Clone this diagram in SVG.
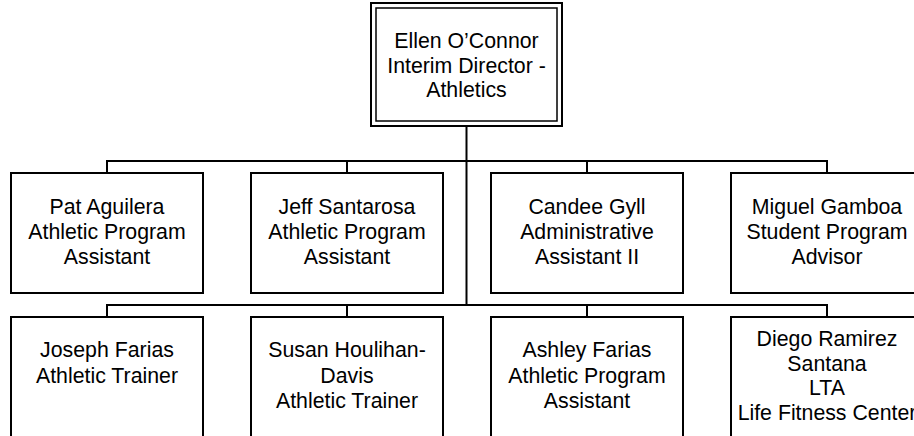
<svg xmlns="http://www.w3.org/2000/svg" width="914" height="436" viewBox="0 0 914 436">
<style>
.box{fill:#fff;stroke:#000;stroke-width:2}
.inner{fill:none;stroke:#000;stroke-width:1.5}
.conn{fill:none;stroke:#000;stroke-width:2}
text{font-family:"Liberation Sans",Arial,sans-serif;font-size:21.3px;fill:#000;text-anchor:middle}
</style>
<rect width="914" height="436" fill="#fff"/>
<g id="connectors">
<path class="conn" d="M466.5 126V305"/>
<path class="conn" d="M107 173V161H827V173M347 161V173M587 161V173"/>
<path class="conn" d="M107 317V305H827V317M347 305V317M587 305V317"/>
</g>
<g id="ellen">
<rect class="box" x="371" y="3" width="191" height="123"/>
<rect class="inner" x="376" y="8" width="181" height="113"/>
<text x="466.5" y="48.3">Ellen O’Connor</text>
<text x="466.5" y="72.6">Interim Director -</text>
<text x="466.5" y="96.8">Athletics</text>
</g>
<g id="pat">
<rect class="box" x="11" y="173" width="192" height="120"/>
<text x="107" y="214">Pat Aguilera</text>
<text x="107" y="239">Athletic Program</text>
<text x="107" y="264">Assistant</text>
</g>
<g id="jeff">
<rect class="box" x="251" y="173" width="192" height="120"/>
<text x="347" y="214">Jeff Santarosa</text>
<text x="347" y="239">Athletic Program</text>
<text x="347" y="264">Assistant</text>
</g>
<g id="candee">
<rect class="box" x="491" y="173" width="192" height="120"/>
<text x="587" y="214">Candee Gyll</text>
<text x="587" y="239">Administrative</text>
<text x="587" y="264">Assistant II</text>
</g>
<g id="miguel">
<rect class="box" x="731" y="173" width="192" height="120"/>
<text x="827" y="214">Miguel Gamboa</text>
<text x="827" y="239">Student Program</text>
<text x="827" y="264">Advisor</text>
</g>
<g id="joseph">
<rect class="box" x="11" y="317" width="192" height="130"/>
<text x="107" y="357.3">Joseph Farias</text>
<text x="107" y="382.8">Athletic Trainer</text>
</g>
<g id="susan">
<rect class="box" x="251" y="317" width="192" height="130"/>
<text x="347" y="357.3">Susan Houlihan-</text>
<text x="347" y="382.8">Davis</text>
<text x="347" y="408">Athletic Trainer</text>
</g>
<g id="ashley">
<rect class="box" x="491" y="317" width="192" height="130"/>
<text x="587" y="357.3">Ashley Farias</text>
<text x="587" y="382.8">Athletic Program</text>
<text x="587" y="407.5">Assistant</text>
</g>
<g id="diego">
<rect class="box" x="731" y="317" width="192" height="130"/>
<text x="827" y="346">Diego Ramirez</text>
<text x="827" y="370.5">Santana</text>
<text x="827" y="395">LTA</text>
<text x="827" y="420">Life Fitness Center</text>
</g>
</svg>
